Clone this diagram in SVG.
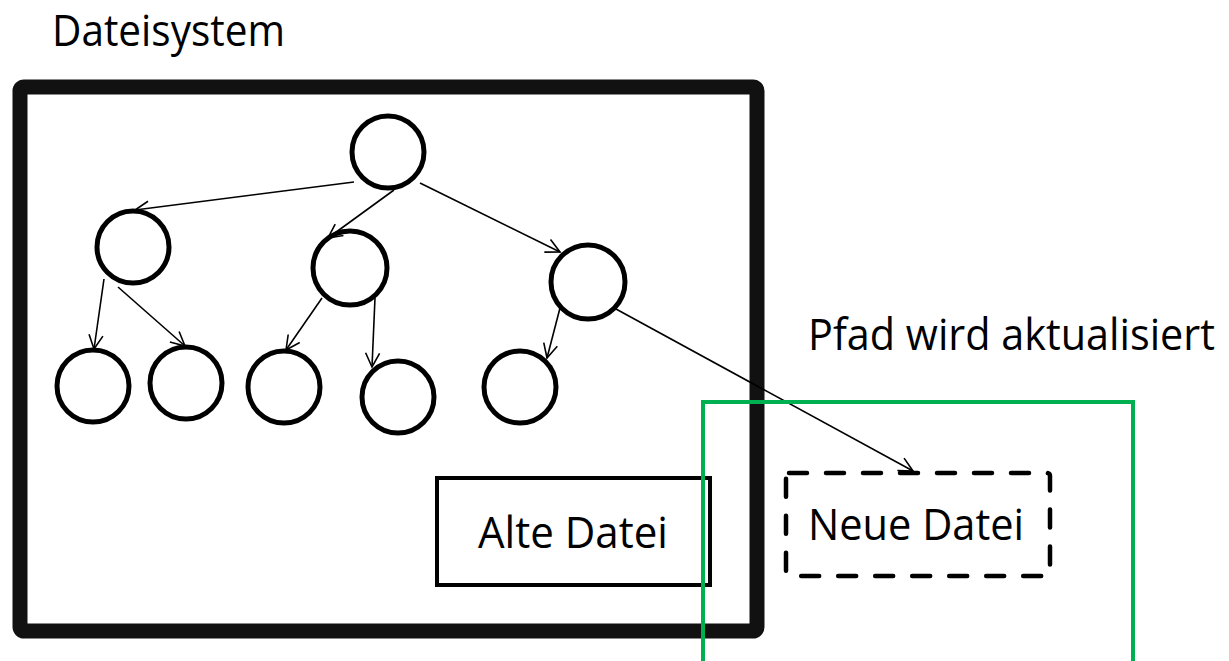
<svg xmlns="http://www.w3.org/2000/svg" width="1229" height="661" viewBox="0 0 1229 661">
<style>
.t{font-family:"Open Sans","Noto Sans",sans-serif;font-size:43px;fill:#000}
.c{fill:#fff;stroke:#000;stroke-width:5}
.e{fill:none;stroke:#000;stroke-width:1.6}
</style>
<defs>
<marker id="a" markerUnits="userSpaceOnUse" markerWidth="20" markerHeight="20" viewBox="0 0 20 20" refX="17" refY="10" orient="auto">
<path d="M3,3 L17,10 L3,17" fill="none" stroke="#000" stroke-width="1.6"/>
</marker>
</defs>
<rect width="1229" height="661" fill="#fff"/>
<text class="t" x="52" y="46" textLength="233" lengthAdjust="spacingAndGlyphs">Dateisystem</text>
<g id="dateisystem">
<rect x="20" y="87" width="737" height="544" rx="4" fill="none" stroke="#111" stroke-width="15"/>
</g>
<g id="root"><circle class="c" cx="388" cy="152" r="36"/></g>
<g id="n1"><circle class="c" cx="133" cy="247" r="36"/></g>
<g id="n2"><circle class="c" cx="350" cy="268" r="37"/></g>
<g id="n3"><circle class="c" cx="588" cy="282" r="37"/></g>
<g id="n4"><circle class="c" cx="93" cy="386" r="36"/></g>
<g id="n5"><circle class="c" cx="186" cy="383" r="36"/></g>
<g id="n6"><circle class="c" cx="284" cy="387" r="36"/></g>
<g id="n7"><circle class="c" cx="398" cy="397" r="36"/></g>
<g id="n8"><circle class="c" cx="520" cy="387" r="36"/></g>
<g id="alte">
<rect x="437" y="478" width="273" height="107" fill="none" stroke="#000" stroke-width="4"/>
<text class="t" x="478" y="548" textLength="190" lengthAdjust="spacingAndGlyphs">Alte Datei</text>
</g>
<g id="neue">
<rect x="786" y="473" width="264" height="103" rx="3" fill="none" stroke="#000" stroke-width="4.5" stroke-dasharray="18 19" stroke-linecap="round"/>
<text class="t" x="808" y="540" textLength="216" lengthAdjust="spacingAndGlyphs">Neue Datei</text>
</g>
<g id="connectors">
<line class="e" x1="354" y1="182" x2="135" y2="210" marker-end="url(#a)"/>
<line class="e" x1="394" y1="190" x2="328" y2="238" marker-end="url(#a)"/>
<line class="e" x1="420" y1="183" x2="560" y2="252" marker-end="url(#a)"/>
<line class="e" x1="104" y1="279" x2="94" y2="349" marker-end="url(#a)"/>
<line class="e" x1="118" y1="287" x2="185" y2="346" marker-end="url(#a)"/>
<line class="e" x1="322" y1="298" x2="286" y2="350" marker-end="url(#a)"/>
<line class="e" x1="375" y1="298" x2="372" y2="367" marker-end="url(#a)"/>
<line class="e" x1="560" y1="308" x2="547" y2="358" marker-end="url(#a)"/>
<line class="e" x1="616" y1="309" x2="913" y2="471" marker-end="url(#a)"/>
</g>
<g id="aktualisiert">
<rect x="703" y="402" width="430" height="280" fill="none" stroke="#00B050" stroke-width="4"/>
<text class="t" x="808" y="350" textLength="407" lengthAdjust="spacingAndGlyphs">Pfad wird aktualisiert</text>
</g>
</svg>
